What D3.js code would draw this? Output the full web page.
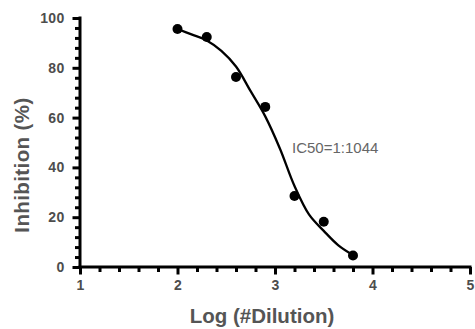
<!DOCTYPE html>
<html>
<head>
<meta charset="utf-8">
<script src="https://cdn.jsdelivr.net/npm/d3@7"></script>
<style>
  html, body { margin: 0; padding: 0; background: #fff; }
  svg { display: block; }
</style>
</head>
<body>
<svg id="chart" width="475" height="329"></svg>
<script>
// measured points
const logDilution = [2.0, 2.3, 2.6, 2.9, 3.2, 3.5, 3.8];
const inhibition = [95.6, 92.4, 76.3, 64.3, 28.5, 18.2, 4.6];

// fitted curve
const fitX = [2.0, 2.15, 2.3, 2.45, 2.6, 2.75, 2.9, 3.05, 3.2, 3.35, 3.5, 3.65, 3.8];
const fitY = [95.6, 93.3, 91.0, 86.8, 80.5, 70.6, 60.5, 47.6, 32.5, 21.0, 14.5, 8.7, 4.8];

const xTicks = [1, 2, 3, 4, 5];
const yTicks = [0, 20, 40, 60, 80, 100];
const ic50Label = 'IC50=1:1044';

const font = '"Liberation Sans", Arial, sans-serif';
const svg = d3.select('#chart');
const x = d3.scaleLinear().domain([1, 5]).range([80, 470]);
const y = d3.scaleLinear().domain([0, 100]).range([267, 18]);

const xMinor = d3.range(1, 5.001, 0.2).filter(v => Math.abs(v - Math.round(v)) > 1e-6);
const yMinor = d3.range(0, 100.001, 4).filter(v => v % 20 !== 0);

function styleLines(g) {
  g.selectAll('line').style('stroke', '#000').style('stroke-width', '3px');
}
function styleText(g) {
  g.selectAll('text')
    .style('font-family', font)
    .style('font-weight', 'bold')
    .style('font-size', '14px')
    .style('letter-spacing', '0.3px')
    .style('fill', '#4d4d4d');
}

// minor ticks
svg.append('g')
  .attr('transform', `translate(0,${y(0)})`)
  .call(d3.axisBottom(x).tickValues(xMinor).tickSize(5).tickFormat(''))
  .call(g => g.select('.domain').remove())
  .call(styleLines);
svg.append('g')
  .attr('transform', `translate(${x(1)},0)`)
  .call(d3.axisLeft(y).tickValues(yMinor).tickSize(5).tickFormat(''))
  .call(g => g.select('.domain').remove())
  .call(styleLines);

// major axes
svg.append('g')
  .attr('transform', `translate(0,${y(0)})`)
  .call(d3.axisBottom(x).tickValues(xTicks).tickSize(7.5).tickSizeOuter(0).tickPadding(6).tickFormat(d3.format('d')))
  .call(g => g.select('.domain').style('stroke', '#000').style('stroke-width', '3px').attr('d', `M${x(1) - 1.5},0H${x(5) + 1.5}`))
  .call(styleLines)
  .call(styleText);
svg.append('g')
  .attr('transform', `translate(${x(1)},0)`)
  .call(d3.axisLeft(y).tickValues(yTicks).tickSize(7.5).tickSizeOuter(0).tickPadding(8).tickFormat(d3.format('d')))
  .call(g => g.select('.domain').style('stroke', '#000').style('stroke-width', '3px').attr('d', `M0,${y(100) - 1.5}V${y(0) + 1.5}`))
  .call(styleLines)
  .call(styleText);

// axis titles
svg.append('text')
  .attr('x', 262)
  .attr('y', 323)
  .attr('text-anchor', 'middle')
  .style('font-family', font)
  .style('font-weight', 'bold')
  .style('font-size', '20.5px')
  .style('fill', '#555')
  .text('Log (#Dilution)');
svg.append('text')
  .attr('transform', 'translate(29,165) rotate(-90)')
  .attr('text-anchor', 'middle')
  .style('font-family', font)
  .style('font-weight', 'bold')
  .style('font-size', '20.5px')
  .style('letter-spacing', '0.4px')
  .style('fill', '#555')
  .text('Inhibition (%)');

// fitted curve
const fit = fitX.map((v, i) => [v, fitY[i]]);
svg.append('path')
  .datum(fit)
  .attr('fill', 'none')
  .attr('stroke', '#000')
  .attr('stroke-width', 2.3)
  .attr('d', d3.line().x(d => x(d[0])).y(d => y(d[1])).curve(d3.curveCatmullRom));

// points
svg.append('g').selectAll('circle')
  .data(logDilution.map((v, i) => [v, inhibition[i]]))
  .join('circle')
  .attr('cx', d => x(d[0]))
  .attr('cy', d => y(d[1]))
  .attr('r', 5)
  .attr('fill', '#000');

svg.append('text')
  .attr('x', 292)
  .attr('y', 152.7)
  .style('font-family', font)
  .style('font-size', '15px')
  .style('fill', '#666')
  .text(ic50Label);
</script>
</body>
</html>
